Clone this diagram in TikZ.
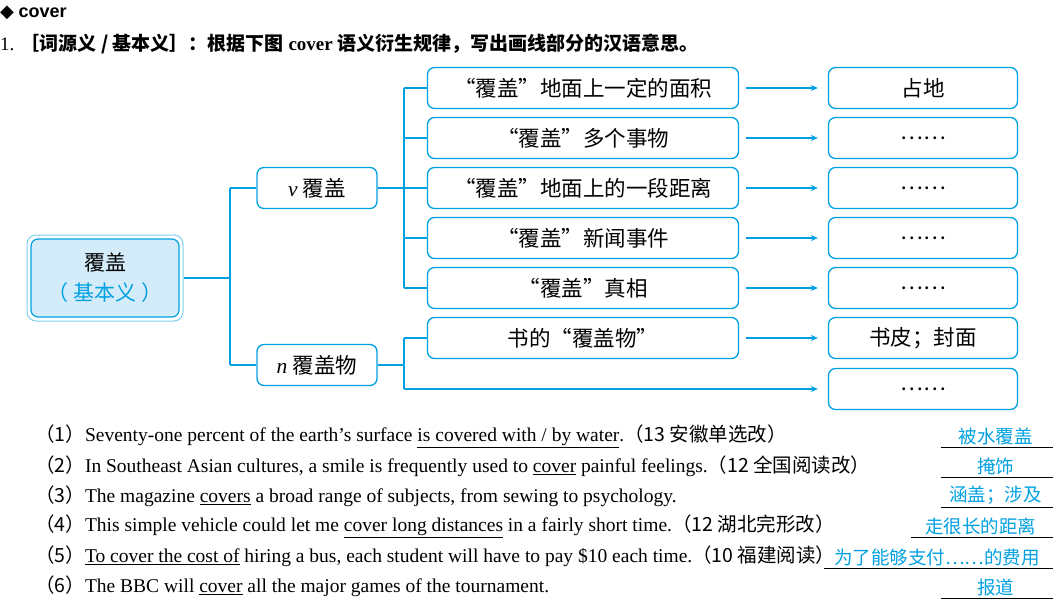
\documentclass[tikz,border=0pt]{standalone}
\usepackage{fontspec}
\setmainfont{Liberation Serif}
\newfontfamily\cjk{Noto Sans CJK SC}
\newfontfamily\dv{DejaVu Sans}
\usetikzlibrary{arrows.meta}
\definecolor{bl}{RGB}{0,160,225}
\definecolor{lbl}{RGB}{212,236,250}
\tikzset{
 box/.style={draw=bl,line width=1.3pt,rounded corners=7pt,fill=white,minimum height=41pt,font=\fontsize{21.5}{23}\selectfont},
 mid/.style={box,minimum width=311pt},
 rbox/.style={box,minimum width=189pt},
 conn/.style={draw=bl,line width=1.8pt},
 arr/.style={draw=bl,line width=1.3pt,-{Stealth[length=7pt,width=6pt]}},
 sent/.style={anchor=west,font=\fontsize{19.5}{21}\selectfont,inner sep=0pt},
 ans/.style={anchor=south,font=\cjk\fontsize{18.5}{20}\selectfont,text=bl,inner sep=2pt}
}
\begin{document}
\begin{tikzpicture}[x=1pt,y=-1pt]
\useasboundingbox (0,0) rectangle (1060,603);
\node[anchor=west,inner sep=0pt,font=\fontsize{18}{20}\selectfont\bfseries] (t) at (0,13) {{\dv\char"25C6} {\fontspec{Liberation Sans}cover}};
\node[anchor=west,inner sep=0pt,font=\fontsize{19}{21}\selectfont] (q) at (0,44) {1. {\cjk\bfseries［词源义 / 基本义］：根据下图} \textbf{cover} {\cjk\bfseries 语义衍生规律，写出画线部分的汉语意思。}};
% root
\node[draw=bl!50,line width=1pt,rounded corners=9pt,minimum width=156pt,minimum height=86pt] (rootO) at (105,278) {};
\node[draw=bl,line width=1.2pt,rounded corners=7pt,fill=lbl,minimum width=148pt,minimum height=78pt,align=center,font=\cjk\fontsize{21}{30}\selectfont] (root) at (105,278) {覆盖\\\textcolor{bl}{（ 基本义 ）}};
\node[box,minimum width=120pt] (v) at (317,188) {\textit{v} {\cjk 覆盖}};
\node[box,minimum width=120pt] (n) at (317,365) {\textit{n} {\cjk 覆盖物}};
\coordinate (rj) at (230,278);
\draw[conn] (rootO.east) -- (rj) (rj|-v.west) -- (v.west) (rj|-n.west) -- (n.west);
\draw[conn] (rj|-v.west) -- (rj|-n.west);
% mid boxes
\foreach \i/\y/\t in {1/88/“覆盖”地面上一定的面积,2/138/“覆盖”多个事物,3/188/“覆盖”地面上的一段距离,4/238/“覆盖”新闻事件,5/288/“覆盖”真相,6/338/书的“覆盖物”}
  \node[mid] (m\i) at (583,\y) {\cjk \t};
\foreach \i/\y/\t in {1/88/占地,2/138/……,3/188/……,4/238/……,5/288/……,6/338/书皮；封面,7/389/……}
  \node[rbox] (r\i) at (923,\y) {\cjk \t};
\coordinate (vj) at (404,188);
\draw[conn] (v.east) -- (vj) (vj|-m1.west) -- (vj|-m5.west);
\foreach \i in {1,...,5} \draw[conn] (vj|-m\i.west) -- (m\i.west);
\coordinate (nj) at (404,365);
\draw[conn] (n.east) -- (nj) (vj|-m6.west) -- (vj|-r7.west);
\draw[conn] (vj|-m6.west) -- (m6.west);
\foreach \i in {1,...,6} \draw[arr] ([xshift=7pt]m\i.east) -- ([xshift=-10pt]r\i.west);
\draw[arr] (vj|-r7.west) -- ([xshift=-10pt]r7.west);
% sentences
\node[sent] (s1) at (35,436) {{\cjk（1）}Seventy-one percent of the earth’s surface \underline{is covered with / by water}.{\cjk（13 安徽单选改）}};
\node[sent] (s2) at (35,466) {{\cjk（2）}In Southeast Asian cultures, a smile is frequently used to \underline{cover} painful feelings.{\cjk（12 全国阅读改）}};
\node[sent] (s3) at (35,496) {{\cjk（3）}The magazine \underline{covers} a broad range of subjects, from sewing to psychology.};
\node[sent] (s4) at (35,526) {{\cjk（4）}This simple vehicle could let me \underline{cover long distances} in a fairly short time.{\cjk（12 湖北完形改）}};
\node[sent] (s5) at (35,556) {{\cjk（5）}\underline{To cover the cost of} hiring a bus, each student will have to pay \$10 each time.{\cjk（10 福建阅读）}};
\node[sent] (s6) at (35,586) {{\cjk（6）}The BBC will \underline{cover} all the major games of the tournament.};
% answers
\foreach \i/\y/\xa/\t in {1/447/941/被水覆盖,2/477/941/掩饰,3/507/941/涵盖；涉及,4/537/911/走很长的距离,5/568/824/为了能够支付……的费用,6/598/941/报道}{
  \coordinate (u\i) at (\xa,\y);
  \draw[line width=0.8pt] (u\i) -- (1053,\y);
  \node[ans] (a\i) at ({(\xa+1050)/2},\y) {\t};
}
\end{tikzpicture}
\end{document}
